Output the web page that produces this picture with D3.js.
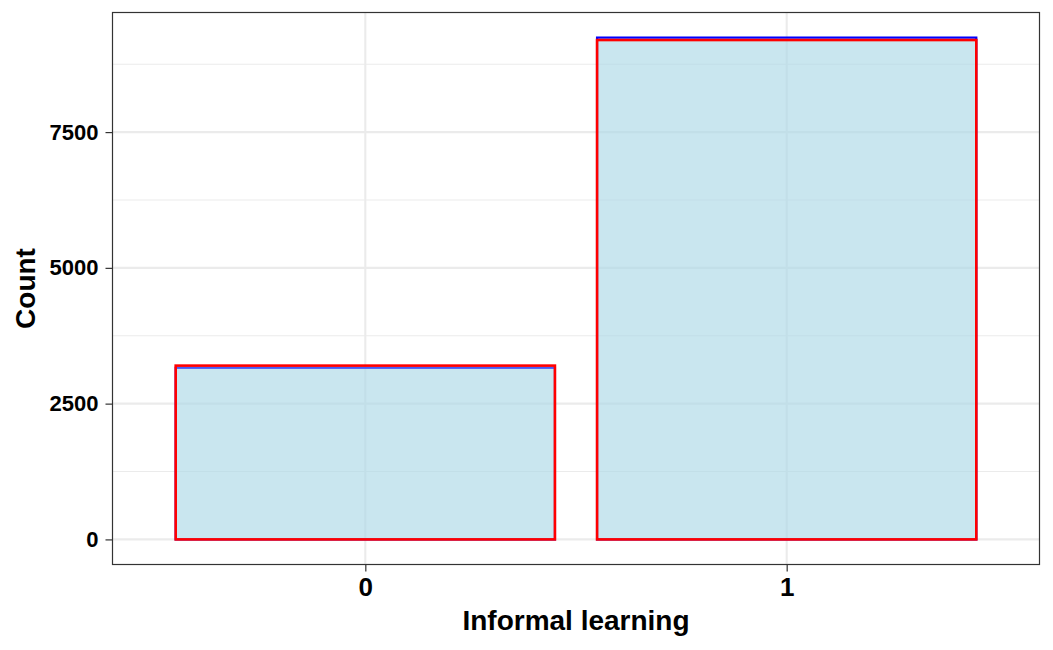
<!DOCTYPE html>
<html>
<head>
<meta charset="utf-8">
<script src="https://cdn.jsdelivr.net/npm/d3@7"></script>
<style>
  html, body { margin: 0; padding: 0; background: #fff; }
  svg { display: block; font-family: "Liberation Sans", Arial, sans-serif; }
</style>
</head>
<body>
<svg id="chart" width="1053" height="650"></svg>
<script>
const categories = ["0", "1"];
const seriesBlue = [3160, 9240];
const seriesRed = [3200, 9195];
const yMajorTicks = [0, 2500, 5000, 7500];
const yMinorTicks = [1250, 3750, 6250, 8750];
const xTitle = "Informal learning";
const yTitle = "Count";

const svg = d3.select("#chart");
const panel = { left: 112.5, right: 1039.5, top: 12.5, bottom: 564.5 };

const yMax = d3.max(seriesBlue.concat(seriesRed));
const y = d3.scaleLinear()
  .domain([-yMax * 0.05, yMax * 1.05])
  .range([panel.bottom, panel.top]);

const x = d3.scalePoint()
  .domain(categories)
  .range([panel.left, panel.right])
  .padding(0.6);
const barW = x.step() * 0.9;

const grid = svg.append("g");
grid.selectAll("line.minor").data(yMinorTicks).enter().append("line")
  .attr("x1", panel.left).attr("x2", panel.right)
  .attr("y1", d => y(d)).attr("y2", d => y(d))
  .attr("stroke", "#EBEBEB").attr("stroke-width", 1.1);
grid.selectAll("line.majory").data(yMajorTicks).enter().append("line")
  .attr("x1", panel.left).attr("x2", panel.right)
  .attr("y1", d => y(d)).attr("y2", d => y(d))
  .attr("stroke", "#EBEBEB").attr("stroke-width", 2.1);
grid.selectAll("line.majorx").data(categories).enter().append("line")
  .attr("y1", panel.top).attr("y2", panel.bottom)
  .attr("x1", d => x(d)).attr("x2", d => x(d))
  .attr("stroke", "#EBEBEB").attr("stroke-width", 2.1);

function drawBars(values, color, sw) {
  svg.append("g").selectAll("rect").data(values).enter().append("rect")
    .attr("x", (d, i) => x(categories[i]) - barW / 2)
    .attr("width", barW)
    .attr("y", d => y(d))
    .attr("height", d => y(0) - y(d))
    .attr("fill", "#ADD8E6").attr("fill-opacity", 0.42)
    .attr("stroke", color).attr("stroke-width", sw);
}
drawBars(seriesBlue, "#0000FF", 2.2);
drawBars(seriesRed, "#FF0000", 2.6);

// panel border
svg.append("rect")
  .attr("x", panel.left).attr("y", panel.top)
  .attr("width", panel.right - panel.left).attr("height", panel.bottom - panel.top)
  .attr("fill", "none").attr("stroke", "#333333").attr("stroke-width", 1.2);

// y axis
const yAxis = d3.axisLeft(y).tickValues(yMajorTicks).tickSize(7).tickPadding(7).tickFormat(d3.format("d"));
const gy = svg.append("g").attr("transform", `translate(${panel.left},0)`).call(yAxis);
gy.select(".domain").remove();
gy.selectAll(".tick line").attr("stroke", "#333333").attr("stroke-width", 1.2);
gy.selectAll(".tick text").attr("fill", "#000").attr("font-size", 22).attr("font-weight", "bold")
  .attr("font-family", "Liberation Sans, Arial, sans-serif");

// x axis
const xAxis = d3.axisBottom(x).tickSize(7).tickPadding(6);
const gx = svg.append("g").attr("transform", `translate(0,${panel.bottom})`).call(xAxis);
gx.select(".domain").remove();
gx.selectAll(".tick line").attr("stroke", "#333333").attr("stroke-width", 1.2);
gx.selectAll(".tick text").attr("fill", "#000").attr("font-size", 26).attr("font-weight", "bold")
  .attr("font-family", "Liberation Sans, Arial, sans-serif");

// titles
svg.append("text")
  .attr("x", (panel.left + panel.right) / 2).attr("y", 630)
  .attr("text-anchor", "middle").attr("font-size", 28).attr("font-weight", "bold")
  .attr("fill", "#000").text(xTitle);
svg.append("text")
  .attr("transform", `translate(35,${(panel.top + panel.bottom) / 2}) rotate(-90)`)
  .attr("text-anchor", "middle").attr("font-size", 28).attr("font-weight", "bold")
  .attr("fill", "#000").text(yTitle);
</script>
</body>
</html>
